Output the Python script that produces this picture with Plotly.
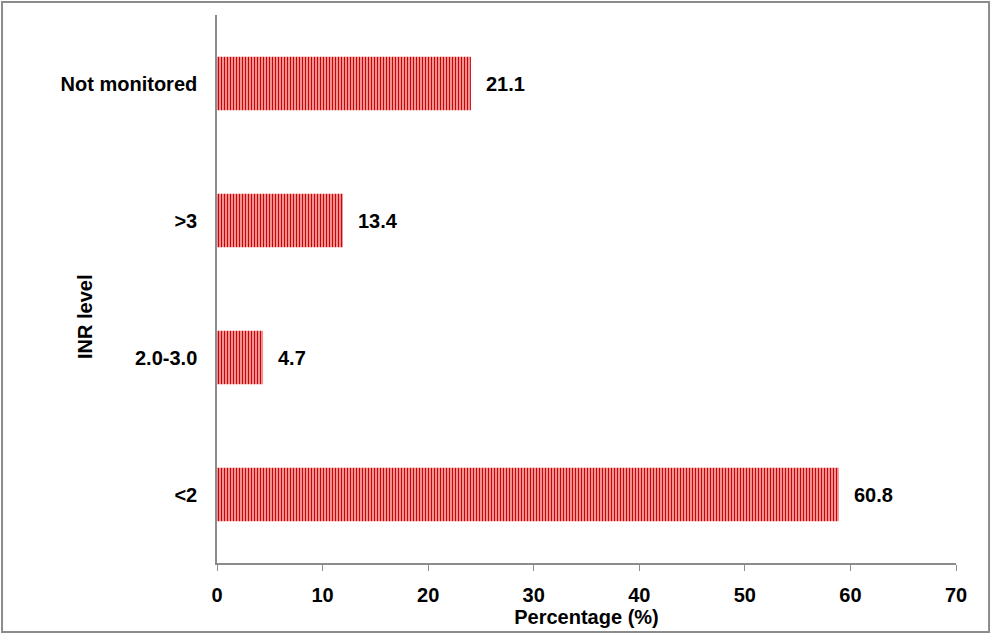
import plotly.graph_objects as go

categories = ["<2", "2.0-3.0", ">3", "Not monitored"]
bar_lengths = [58.9, 4.36, 11.93, 24.05]
label_texts = ["60.8", "4.7", "13.4", "21.1"]
x_ticks = [0, 10, 20, 30, 40, 50, 60, 70]

FONT = "Liberation Sans, Arial, sans-serif"
FS = 20

fig = go.Figure()
fig.add_trace(go.Bar(
    y=categories, x=bar_lengths, orientation="h", width=0.39,
    marker=dict(color="white", line=dict(width=0),
                pattern=dict(shape="|", fgcolor="#d40000", bgcolor="white",
                             size=3, solidity=0.62, fillmode="replace")),
    hoverinfo="skip", showlegend=False,
))

for c, v, t in zip(categories, bar_lengths, label_texts):
    fig.add_annotation(x=v, y=c, text="<b>%s</b>" % t, showarrow=False,
                       xanchor="left", xshift=13, yshift=0,
                       font=dict(family=FONT, size=FS, color="black"))

# y-axis title placed like the reference
fig.add_annotation(xref="paper", yref="paper", x=-0.1786, y=0.4489,
                   text="<b>INR level</b>", textangle=-90, showarrow=False,
                   xanchor="center", yanchor="middle",
                   font=dict(family=FONT, size=FS, color="black"))

fig.add_shape(type="rect", xref="paper", yref="paper",
              x0=-0.2909, x1=1.0447, y0=-0.1259, y1=1.0237,
              line=dict(color="#8c8c8c", width=2), fillcolor="rgba(0,0,0,0)")

fig.update_layout(
    width=992, height=635,
    margin=dict(l=217, r=36, t=15, b=72),
    plot_bgcolor="white", paper_bgcolor="white",
    font=dict(family=FONT, size=FS, color="black"),
    xaxis=dict(range=[0, 70], tickvals=x_ticks, ticktext=["<b>%d</b>" % v for v in x_ticks],
               showgrid=False, zeroline=False, showline=True, linecolor="#8c8c8c",
               linewidth=1.5, ticks="outside", ticklen=6, tickcolor="#8c8c8c",
               ticklabelstandoff=7,
               title=dict(text="<b>Percentage (%)</b>", standoff=0,
                          font=dict(family=FONT, size=FS))),
    yaxis=dict(categoryorder="array", categoryarray=categories,
               range=[-0.5, 3.5],
               tickvals=categories, ticktext=["<b>%s</b>" % c for c in categories],
               showgrid=False, zeroline=False, showline=True, linecolor="#8c8c8c",
               linewidth=1.5, ticks="", ticklabelstandoff=14),
)

fig.write_html("out.html", config={"displayModeBar": False},
               post_script="document.body.style.margin='0';")
